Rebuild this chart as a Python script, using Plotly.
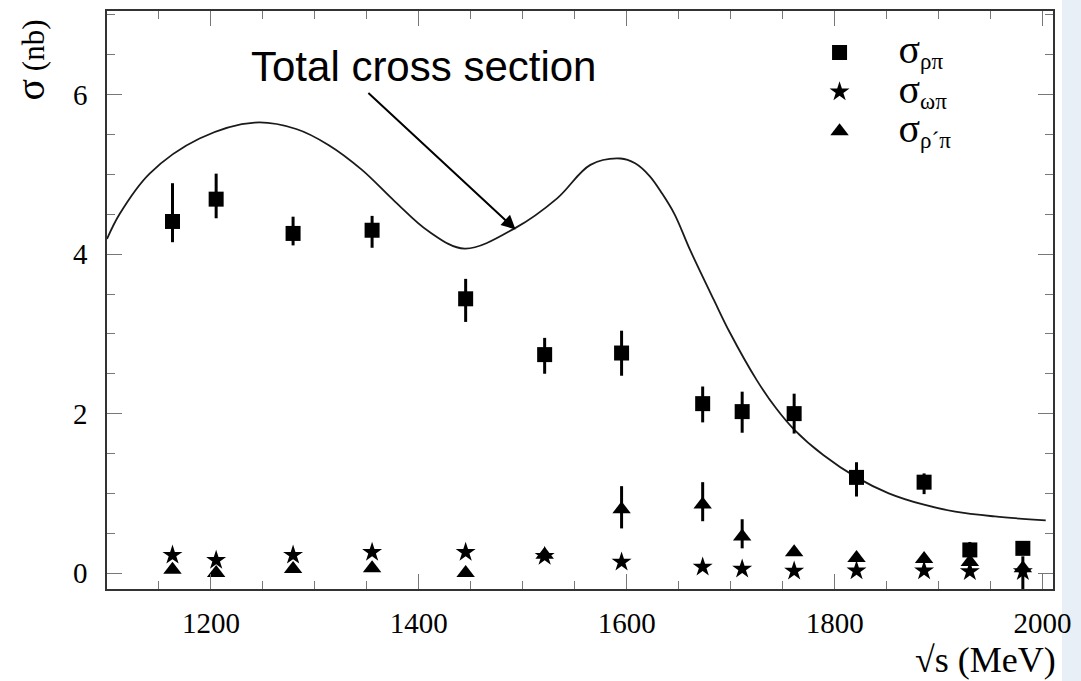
import plotly.graph_objects as go

# ---- data ----
energy = [1163, 1205, 1279, 1355, 1445, 1521, 1595, 1673, 1711, 1761, 1821, 1886, 1930, 1981]

sigma_rhopi = [4.41, 4.69, 4.26, 4.30, 3.44, 2.74, 2.76, 2.125, 2.025, 2.0, 1.2, 1.14, 0.29, 0.31]
err_rhopi_plus = [0.48, 0.32, 0.21, 0.18, 0.25, 0.21, 0.28, 0.215, 0.25, 0.25, 0.19, 0.11, 0.1, 0.08]
err_rhopi_minus = [0.26, 0.24, 0.15, 0.22, 0.29, 0.24, 0.285, 0.235, 0.265, 0.25, 0.24, 0.15, 0.1, 0.08]

sigma_omegapi = [0.225, 0.16, 0.225, 0.26, 0.26, 0.21, 0.14, 0.075, 0.05, 0.025, 0.03, 0.03, 0.02, 0.02]

sigma_rhoppi = [0.04, 0.0, 0.05, 0.06, 0.0, 0.23, 0.80, 0.86, 0.46, 0.26, 0.19, 0.175, 0.14, 0.06]
err_rhoppi_plus = [0, 0, 0, 0, 0, 0.05, 0.29, 0.28, 0.215, 0, 0, 0, 0.04, 0.15]
err_rhoppi_minus = [0, 0, 0, 0, 0, 0.05, 0.24, 0.21, 0.15, 0, 0, 0, 0.04, 0.3]

curve_x = [1100, 1112, 1141, 1189, 1242, 1282, 1313, 1345, 1377, 1409, 1444, 1493, 1533, 1565,
           1594, 1608, 1622, 1634, 1646, 1661, 1684, 1699, 1725, 1744, 1761, 1789, 1821, 1852,
           1885, 1916, 1954, 2003]
curve_y = [4.19, 4.5, 5.01, 5.45, 5.65, 5.57, 5.37, 5.06, 4.66, 4.29, 4.07, 4.33, 4.7, 5.12,
           5.2, 5.14, 4.98, 4.76, 4.5, 4.05, 3.42, 3.02, 2.42, 2.06, 1.80, 1.48, 1.20, 1.0,
           0.86, 0.77, 0.71, 0.66]

x_ticks = [1200, 1400, 1600, 1800, 2000]
y_ticks = [0, 2, 4, 6]

label_text = "Total cross section"
label_pos = (1404, 6.35)
arrow_tail = (1350, 6.04)
arrow_head = (1493, 4.31)

SERIF = "Liberation Serif, Times New Roman, serif"
SANS = "Liberation Sans, Arial, sans-serif"

def sig(sub):
    return ("<span style='font-size:40px'>σ</span><sub><span style='font-size:23px'>"
            + sub + "</span></sub>")

fig = go.Figure()

fig.add_trace(go.Scatter(
    x=curve_x, y=curve_y, mode="lines",
    line=dict(color="#1a1a1a", width=1.8, shape="spline", smoothing=1.0),
    showlegend=False, hoverinfo="skip"))

fig.add_trace(go.Scatter(
    x=energy, y=sigma_rhopi, mode="markers", name=sig("ρπ"),
    marker=dict(symbol="square", size=15, color="black"),
    error_y=dict(type="data", symmetric=False, array=err_rhopi_plus,
                 arrayminus=err_rhopi_minus, thickness=3, width=0, color="black")))

fig.add_trace(go.Scatter(
    x=energy, y=sigma_omegapi, mode="markers", name=sig("ωπ"),
    marker=dict(symbol="star", size=15, color="black")))

fig.add_trace(go.Scatter(
    x=energy, y=sigma_rhoppi, mode="markers", name=sig("ρ´π"),
    marker=dict(symbol="triangle-up", size=16, color="black"),
    error_y=dict(type="data", symmetric=False, array=err_rhoppi_plus,
                 arrayminus=err_rhoppi_minus, thickness=3, width=0, color="black")))

axis_common = dict(
    showgrid=False, zeroline=False, showline=True, linecolor="#333333", linewidth=1.5,
    mirror="allticks", ticks="inside", ticklen=15, tickwidth=1.3, tickcolor="#777777",
    tickfont=dict(family=SERIF, size=29, color="black"),
)

fig.update_xaxes(range=[1100, 2010], tickvals=x_ticks, ticklabelstandoff=7,
                 minor=dict(dtick=50, tick0=1000, ticks="inside", ticklen=8,
                            tickcolor="#777777", tickwidth=1.3),
                 **axis_common)
fig.update_yaxes(range=[-0.2, 7.05], tickvals=y_ticks, ticklabelstandoff=12,
                 minor=dict(dtick=0.5, tick0=0, ticks="inside", ticklen=8,
                            tickcolor="#777777", tickwidth=1.3),
                 **axis_common)

fig.add_annotation(x=label_pos[0], y=label_pos[1], xref="x", yref="y", text=label_text,
                   showarrow=False, font=dict(family=SANS, size=42, color="black"))
fig.add_annotation(x=arrow_head[0], y=arrow_head[1], ax=arrow_tail[0], ay=arrow_tail[1],
                   xref="x", yref="y", axref="x", ayref="y", text="", showarrow=True,
                   arrowhead=2, arrowsize=1.4, arrowwidth=2, arrowcolor="black", standoff=0)

fig.add_annotation(x=-0.081, y=0.915, xref="paper", yref="paper",
                   text="<span style='font-size:40px'>σ</span> (nb)",
                   textangle=-90, showarrow=False, xanchor="center", yanchor="middle",
                   font=dict(family=SERIF, size=31, color="black"))
fig.add_annotation(x=1.005, y=-0.122, xref="paper", yref="paper", text="√s (MeV)",
                   showarrow=False, xanchor="right", yanchor="middle",
                   font=dict(family=SERIF, size=36, color="black"))

fig.add_shape(type="rect", xref="paper", yref="paper", x0=1.0095, x1=1.03, y0=-0.2, y1=1.05,
              fillcolor="#e9eff7", line=dict(width=0), layer="below")

fig.update_layout(
    width=1081, height=681,
    margin=dict(l=107, r=22, t=9, b=92),
    paper_bgcolor="white", plot_bgcolor="white",
    legend=dict(x=0.712, y=0.971, xanchor="left", yanchor="top",
                font=dict(family=SERIF, size=28, color="black"),
                bgcolor="rgba(0,0,0,0)", itemwidth=108),
)

fig.write_html("out.html")
